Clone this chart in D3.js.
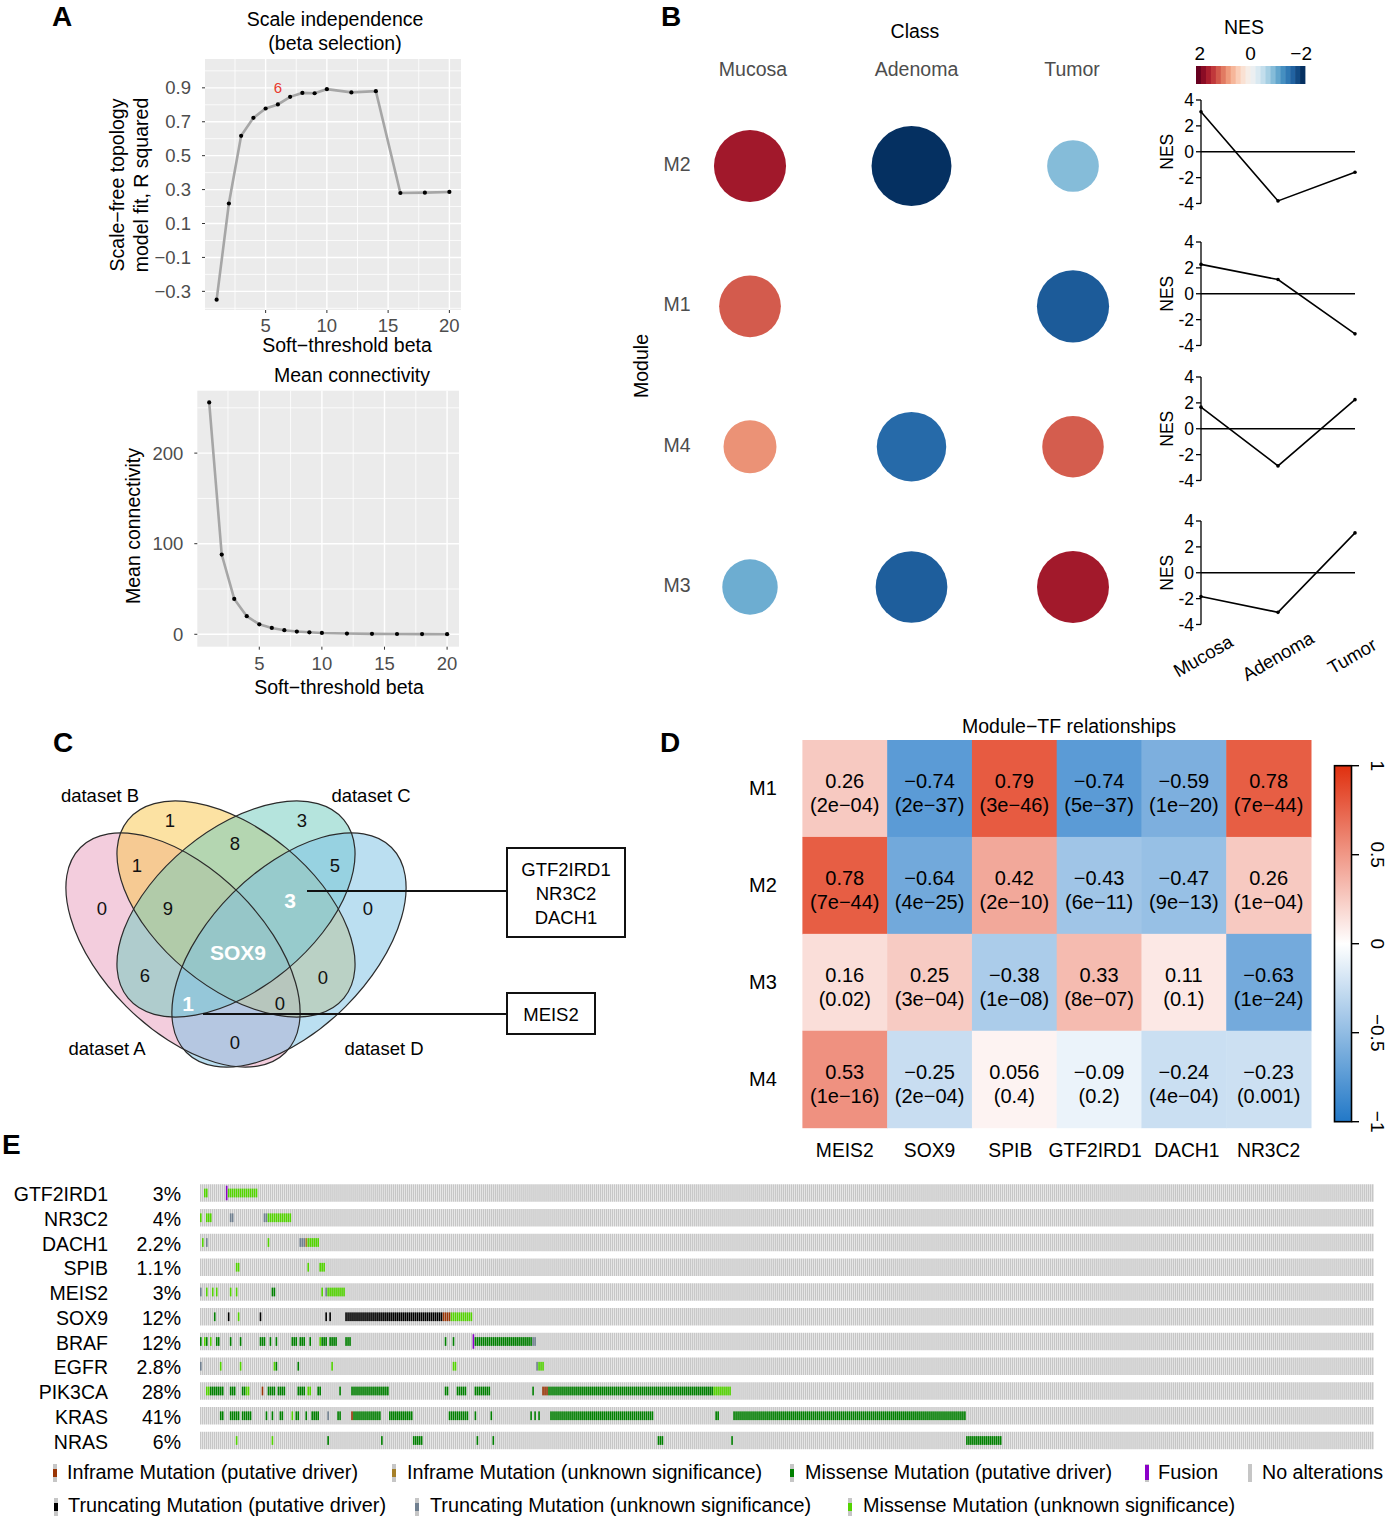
<!DOCTYPE html>
<html><head><meta charset="utf-8">
<script src="https://cdn.jsdelivr.net/npm/d3@7/dist/d3.min.js"></script>
<style>body{margin:0;background:#fff} text{font-family:"Liberation Sans",Arial,Helvetica,sans-serif}</style>
</head><body><svg id="c" width="1388" height="1521" xmlns="http://www.w3.org/2000/svg"></svg>
<script>
// ---------------- DATA ----------------
const betaPowers = [1,2,3,4,5,6,7,8,9,10,12,14,16,18,20];
const scaleFitR2 = [-0.349,0.218,0.617,0.723,0.778,0.802,0.847,0.870,0.868,0.892,0.873,0.880,0.280,0.282,0.286];
const meanConnectivity = [256,88,39,20,11,7,4.5,3,2.2,1.5,0.8,0.5,0.3,0.2,0.1];
const selectedBeta = 6;
const r2TickValues = [-0.3,-0.1,0.1,0.3,0.5,0.7,0.9];
const kTickValues = [0,100,200];
const betaTickValues = [5,10,15,20];

const classes = ["Mucosa","Adenoma","Tumor"];
const modulesB = ["M2","M1","M4","M3"];
const nesM2 = [3.09,-3.80,-1.59];
const nesM1 = [2.27,1.10,-3.10];
const nesM4 = [1.67,-2.87,2.25];
const nesM3 = [-1.83,-3.06,3.08];
const nesShownM2 = [true,true,true];
const nesShownM1 = [true,false,true];
const nesShownM4 = [true,true,true];
const nesShownM3 = [true,true,true];
const nesTicks = [4,2,0,-2,-4];
const nesLegendTicks = [2,0,-2];

const vennSetNames = ["dataset A","dataset B","dataset C","dataset D"];
const vennRegions = ["A","B","C","D","AB","AC","AD","BC","BD","CD","ABC","ABD","ACD","BCD","ABCD"];
const vennCounts  = ["0","1","3","0","1","6","0","8","0","5","9","0","1","3","SOX9"];
const vennHighlighted = ["ACD","BCD","ABCD"];
const calloutBCD = ["GTF2IRD1","NR3C2","DACH1"];
const calloutACD = ["MEIS2"];

const tfNames = ["MEIS2","SOX9","SPIB","GTF2IRD1","DACH1","NR3C2"];
const modulesD = ["M1","M2","M3","M4"];
const corM1 = [0.26,-0.74,0.79,-0.74,-0.59,0.78];
const corM2 = [0.78,-0.64,0.42,-0.43,-0.47,0.26];
const corM3 = [0.16,0.25,-0.38,0.33,0.11,-0.63];
const corM4 = [0.53,-0.25,0.056,-0.09,-0.24,-0.23];
const pM1 = ["2e-04","2e-37","3e-46","5e-37","1e-20","7e-44"];
const pM2 = ["7e-44","4e-25","2e-10","6e-11","9e-13","1e-04"];
const pM3 = ["0.02","3e-04","1e-08","8e-07","0.1","1e-24"];
const pM4 = ["1e-16","2e-04","0.4","0.2","4e-04","0.001"];
const corBarTicks = [1,0.5,0,-0.5,-1];

const oncoGenes = ["GTF2IRD1","NR3C2","DACH1","SPIB","MEIS2","SOX9","BRAF","EGFR","PIK3CA","KRAS","NRAS"];
const oncoPercents = ["3%","4%","2.2%","1.1%","3%","12%","12%","2.8%","28%","41%","6%"];
const sampleCount = 590;
// [first sample, run length, alteration type]
const altGTF2IRD1 = [[2,2,"mU"],[13,1,"F"],[14,15,"mU"]];
const altNR3C2 = [[0,1,"mU"],[3,3,"mU"],[15,2,"tU"],[32,2,"tU"],[34,12,"mU"]];
const altDACH1 = [[1,1,"mU"],[3,1,"tU"],[34,1,"mU"],[50,3,"tU"],[53,1,"iU"],[54,6,"mU"]];
const altSPIB = [[18,2,"mU"],[54,1,"mU"],[60,3,"mU"]];
const altMEIS2 = [[0,1,"tU"],[3,1,"mU"],[6,1,"mU"],[8,1,"mU"],[15,1,"mU"],[18,1,"mU"],[36,2,"mD"],[61,1,"mU"],[63,1,"tU"],[64,9,"mU"]];
const altSOX9 = [[7,1,"mD"],[14,1,"tD"],[19,1,"mU"],[30,1,"tD"],[63,1,"tD"],[65,1,"tD"],[73,49,"tD"],[122,4,"iD"],[126,11,"mU"]];
const altBRAF = [[0,1,"mD"],[2,1,"mU"],[3,1,"mD"],[5,1,"mU"],[8,2,"mD"],[15,1,"mD"],[20,1,"mD"],[30,3,"mD"],[35,1,"mD"],[38,1,"mD"],[46,3,"mD"],[50,3,"mD"],[55,1,"mD"],[60,1,"mU"],[61,3,"mD"],[65,4,"mD"],[73,3,"mD"],[123,1,"mD"],[127,1,"mD"],[137,1,"F"],[138,29,"mD"],[167,2,"tU"]];
const altEGFR = [[0,1,"tU"],[10,1,"mU"],[20,1,"mU"],[37,1,"mU"],[38,1,"mD"],[49,1,"mD"],[66,1,"mU"],[127,2,"mU"],[169,1,"tU"],[170,3,"mU"]];
const altPIK3CA = [[3,2,"mU"],[5,7,"mD"],[15,3,"mD"],[21,2,"mD"],[23,2,"mU"],[31,1,"iD"],[34,4,"mD"],[39,4,"mD"],[49,4,"mD"],[54,2,"mU"],[59,2,"mD"],[70,1,"mD"],[76,19,"mD"],[123,2,"mD"],[129,5,"mD"],[138,8,"mD"],[167,1,"mD"],[172,3,"iD"],[175,83,"mD"],[258,9,"mU"]];
const altKRAS = [[10,2,"mD"],[15,5,"mD"],[21,5,"mD"],[33,1,"mD"],[36,1,"mD"],[40,2,"mD"],[46,1,"mU"],[48,2,"mD"],[53,1,"mD"],[56,4,"mD"],[64,1,"tU"],[69,2,"mD"],[76,1,"iD"],[77,14,"mD"],[95,12,"mD"],[125,10,"mD"],[138,1,"mD"],[146,1,"mD"],[166,1,"mD"],[168,1,"mD"],[170,1,"mD"],[176,52,"mD"],[259,2,"mD"],[268,117,"mD"]];
const altNRAS = [[18,1,"mU"],[36,1,"mU"],[64,1,"mD"],[91,1,"mD"],[107,5,"mD"],[139,1,"mD"],[147,1,"mD"],[230,3,"mD"],[267,1,"mD"],[385,18,"mD"]];
const legendRow1 = [["iD","Inframe Mutation (putative driver)"],["iU","Inframe Mutation (unknown significance)"],["mD","Missense Mutation (putative driver)"],["F","Fusion"],["none","No alterations"]];
const legendRow2 = [["tD","Truncating Mutation (putative driver)"],["tU","Truncating Mutation (unknown significance)"],["mU","Missense Mutation (unknown significance)"]];

// ---------------- HELPERS ----------------
const svg = d3.select("#c");
const minus = s => String(s).replace(/-/g,"\u2212");
function txt(g,x,y,s,o={}){
  const t=g.append("text").attr("x",x).attr("y",y).text(s)
    .attr("font-size",o.size||18).attr("fill",o.fill||"#000")
    .attr("text-anchor",o.anchor||"start").attr("dominant-baseline",o.base||"central");
  if(o.weight) t.attr("font-weight",o.weight);
  if(o.rotate!=null) t.attr("transform",`rotate(${o.rotate},${x},${y})`);
  if(o.len) t.attr("textLength",o.len).attr("lengthAdjust","spacingAndGlyphs");
  return t;
}
// panel letters
[["A",52,16],["B",661,16],["C",53,742],["D",660,742],["E",2,1144]].forEach(d=>txt(svg,d[1],d[2],d[0],{size:28,weight:"bold"}));

// ---------------- PANEL A ----------------
function ggPanel(c){
  const g=svg.append("g");
  const x=d3.scaleLinear().domain([0.05,20.95]).range([c.left,c.right]);
  const y=d3.scaleLinear().domain(c.yDomain).range([c.bottom,c.top]);
  g.append("rect").attr("x",c.left).attr("y",c.top).attr("width",c.right-c.left).attr("height",c.bottom-c.top).attr("fill","#EBEBEB");
  c.yGrid.forEach((v,i)=>g.append("line").attr("x1",c.left).attr("x2",c.right).attr("y1",y(v)).attr("y2",y(v))
     .attr("stroke","#fff").attr("stroke-width",c.yMajor.some(m=>Math.abs(m-v)<1e-9)?1.4:0.8));
  [2.5,5,7.5,10,12.5,15,17.5,20].forEach(v=>g.append("line").attr("y1",c.top).attr("y2",c.bottom).attr("x1",x(v)).attr("x2",x(v))
     .attr("stroke","#fff").attr("stroke-width",v%5===0?1.4:0.8));
  c.yMajor.forEach((v,i)=>{
    g.append("line").attr("x1",c.left-3).attr("x2",c.left).attr("y1",y(v)).attr("y2",y(v)).attr("stroke","#333");
    txt(g,c.left-14,y(v),c.yLabels[i],{size:18.5,fill:"#4D4D4D",anchor:"end"});
  });
  betaTickValues.forEach(v=>{
    g.append("line").attr("x1",x(v)).attr("x2",x(v)).attr("y1",c.bottom).attr("y2",c.bottom+3).attr("stroke","#333");
    txt(g,x(v),c.xTickY,v,{size:18.5,fill:"#4D4D4D",anchor:"middle"});
  });
  const pts=d3.zip(betaPowers,c.values);
  g.append("path").datum(pts).attr("d",d3.line().x(d=>x(d[0])).y(d=>y(d[1])))
    .attr("fill","none").attr("stroke","#A6A6A6").attr("stroke-width",2.6);
  g.selectAll("circle.p").data(pts).enter().append("circle").attr("cx",d=>x(d[0])).attr("cy",d=>y(d[1])).attr("r",2.1).attr("fill","#000");
  c.titles.forEach(t=>txt(g,t[0],t[1],t[2],{size:19.5,anchor:"middle"}));
  txt(g,c.xTitle[0],c.xTitle[1],"Soft\u2212threshold beta",{size:19.5,anchor:"middle"});
  c.yTitles.forEach(t=>txt(g,t[0],t[1],t[2],{size:19.5,anchor:"middle",rotate:-90}));
  return {g,x,y};
}
const pA1=ggPanel({left:205,right:461,top:59,bottom:310,yDomain:[-0.41,1.07],
  yGrid:d3.range(-4,11).map(v=>v/10),yMajor:r2TickValues,yLabels:r2TickValues.map(v=>minus(v.toFixed(1))),
  values:scaleFitR2,xTickY:325,titles:[[335,19,"Scale independence"],[335,43,"(beta selection)"]],
  xTitle:[347,345],yTitles:[[117,185,"Scale\u2212free topology"],[141,185,"model fit, R squared"]]});
{
  const i=betaPowers.indexOf(selectedBeta);
  txt(pA1.g,pA1.x(selectedBeta),pA1.y(scaleFitR2[i]+0.1),selectedBeta,{size:15,fill:"#E8392E",anchor:"middle"});
}
ggPanel({left:197.3,right:459,top:390.7,bottom:646.7,yDomain:[-13.7,268.9],
  yGrid:d3.range(0,251,50),yMajor:kTickValues,yLabels:kTickValues.map(String),
  values:meanConnectivity,xTickY:663,titles:[[352,375,"Mean connectivity"]],
  xTitle:[339,687],yTitles:[[133,526,"Mean connectivity"]]});

// ---------------- PANEL B ----------------
{
  const g=svg.append("g");
  const nesRows=[nesM2,nesM1,nesM4,nesM3];
  const shownRows=[nesShownM2,nesShownM1,nesShownM4,nesShownM3];
  const cx=d3.scalePoint().domain(classes).range([750,1073]);
  const cy=d3.scalePoint().domain(modulesB).range([166,587]);
  const col=d3.scaleSequential(d3.interpolateRdBu).domain([3.7,-3.7]).clamp(true);
  const rad=d3.scaleSqrt().domain([0,4]).range([0,41]);
  txt(g,915,31,"Class",{size:19.5,anchor:"middle"});
  classes.forEach((c,i)=>txt(g,cx(c)+[3,5,-1][i],69,c,{size:19.5,fill:"#4D4D4D",anchor:"middle"}));
  modulesB.forEach(m=>txt(g,677,cy(m)-2,m,{size:19.5,fill:"#4D4D4D",anchor:"middle"}));
  txt(g,641,366,"Module",{size:19.5,anchor:"middle",rotate:-90});
  const dots=[];
  modulesB.forEach((m,r)=>classes.forEach((c,k)=>{ if(shownRows[r][k]) dots.push({m,c,v:nesRows[r][k]}); }));
  g.selectAll("circle.dot").data(dots).enter().append("circle")
    .attr("cx",d=>cx(d.c)).attr("cy",d=>cy(d.m)).attr("r",d=>rad(Math.abs(d.v))).attr("fill",d=>col(d.v));
  // legend
  txt(g,1244,27,"NES",{size:19.5,anchor:"middle"});
  const lx=d3.scaleLinear().domain([2.15,-2.15]).range([1196,1305]);
  const nStripes=22, sw=(1305-1196)/nStripes;
  d3.range(nStripes).forEach(i=>g.append("rect").attr("x",1196+i*sw).attr("y",66).attr("width",sw+0.4).attr("height",18)
    .attr("fill",d3.interpolateRdBu(i/(nStripes-1))));
  nesLegendTicks.forEach(v=>txt(g,lx(v),53,minus(v),{size:19,anchor:"middle"}));
  // small line plots
  const tops=[100,242,377,521];
  const lxp=d3.scalePoint().domain(classes).range([1201,1355]);
  nesRows.forEach((vals,r)=>{
    const y=d3.scaleLinear().domain([-4,4]).range([tops[r]+103.5,tops[r]]);
    g.append("line").attr("x1",1201).attr("x2",1201).attr("y1",y(4)).attr("y2",y(-4)).attr("stroke","#000").attr("stroke-width",1.3);
    nesTicks.forEach(t=>{
      g.append("line").attr("x1",1196).attr("x2",1201).attr("y1",y(t)).attr("y2",y(t)).attr("stroke","#000").attr("stroke-width",1.3);
      txt(g,1194,y(t),t,{size:17.5,anchor:"end"});
    });
    g.append("line").attr("x1",1201).attr("x2",1355).attr("y1",y(0)).attr("y2",y(0)).attr("stroke","#000").attr("stroke-width",1.5);
    const pts=classes.map((c,k)=>[lxp(c),y(vals[k])]);
    g.append("path").attr("d",d3.line()(pts)).attr("fill","none").attr("stroke","#000").attr("stroke-width",1.6);
    pts.forEach(p=>g.append("circle").attr("cx",p[0]).attr("cy",p[1]).attr("r",1.8).attr("fill","#000"));
    txt(g,1167,y(0),"NES",{size:17.5,anchor:"middle",rotate:-90});
  });
  classes.forEach((c,k)=>txt(g,lxp(c)+[2,0,-3][k],656,c,{size:18.5,anchor:"middle",rotate:-30}));
}

// ---------------- PANEL C ----------------
{
  const g=svg.append("g");
  const ellipses=[
    {cx:183,cy:950,a:145,b:80,rot:45,fill:"#E8A0BE"},
    {cx:236,cy:909,a:140,b:79,rot:39.6,fill:"#F9C84E"},
    {cx:236,cy:909,a:140,b:79,rot:-39.6,fill:"#71CBBD"},
    {cx:289,cy:950,a:145,b:80,rot:-45,fill:"#7DC1E5"}];
  const ell=(e)=>g.append("ellipse").attr("cx",e.cx).attr("cy",e.cy).attr("rx",e.a).attr("ry",e.b)
      .attr("transform",`rotate(${e.rot},${e.cx},${e.cy})`);
  ellipses.forEach(e=>ell(e).attr("fill",e.fill).attr("fill-opacity",0.52));
  ellipses.forEach(e=>ell(e).attr("fill","none").attr("stroke","#2b2b2b").attr("stroke-width",1.2));
  const regionPos={A:[102,908],B:[170,820],C:[302,820],D:[368,908],AB:[137,865],AC:[145,975],AD:[235,1042],
    BC:[235,843],BD:[323,977],CD:[335,865],ABC:[168,908],ABD:[280,1003],ACD:[188,1003],BCD:[290,900],ABCD:[238,952]};
  vennRegions.forEach((r,i)=>{
    const hl=vennHighlighted.includes(r);
    txt(g,regionPos[r][0],regionPos[r][1],vennCounts[i],{size:hl?21:18.5,anchor:"middle",fill:hl?"#fff":"#111",weight:hl?"bold":null});
  });
  const setLabelPos=[[107,1048],[100,795],[371,795],[384,1048]];
  vennSetNames.forEach((s,i)=>txt(g,setLabelPos[i][0],setLabelPos[i][1],s,{size:18.5,anchor:"middle"}));
  // callouts
  const bcd=regionPos.BCD, acd=regionPos.ACD;
  g.append("line").attr("x1",bcd[0]+17).attr("x2",507).attr("y1",891).attr("y2",891).attr("stroke","#111").attr("stroke-width",2);
  g.append("line").attr("x1",acd[0]+15).attr("x2",507).attr("y1",1014).attr("y2",1014).attr("stroke","#111").attr("stroke-width",2);
  g.append("rect").attr("x",507).attr("y",848).attr("width",118).attr("height",89).attr("fill","#fff").attr("stroke","#111").attr("stroke-width",2);
  g.append("rect").attr("x",507).attr("y",993).attr("width",88).attr("height",41).attr("fill","#fff").attr("stroke","#111").attr("stroke-width",2);
  calloutBCD.forEach((s,i)=>txt(g,566,869+i*24,s,{size:18.5,anchor:"middle"}));
  calloutACD.forEach(s=>txt(g,551,1014,s,{size:18.5,anchor:"middle"}));
}

// ---------------- PANEL D ----------------
{
  const g=svg.append("g");
  const corRows=[corM1,corM2,corM3,corM4], pRows=[pM1,pM2,pM3,pM4];
  const x=d3.scaleBand().domain(tfNames).range([802.4,1311]);
  const y=d3.scaleBand().domain(modulesD).range([740,1127.7]);
  const heat=d3.scaleLinear().domain([-1,0,1]).range(["#2278C7","#FFFFFF","#E0300F"]);
  txt(g,1069,726,"Module\u2212TF relationships",{size:19.5,anchor:"middle"});
  modulesD.forEach((m,r)=>tfNames.forEach((t,k)=>{
    const v=corRows[r][k];
    g.append("rect").attr("x",x(t)).attr("y",y(m)).attr("width",x.bandwidth()+0.5).attr("height",y.bandwidth()+0.5).attr("fill",heat(v));
    const cxm=x(t)+x.bandwidth()/2, cym=y(m)+y.bandwidth()/2;
    txt(g,cxm,cym-7,minus(v),{size:20,anchor:"middle"});
    txt(g,cxm,cym+17,"("+minus(pRows[r][k])+")",{size:20,anchor:"middle"});
  }));
  modulesD.forEach(m=>txt(g,763,y(m)+y.bandwidth()/2,m,{size:20,anchor:"middle"}));
  tfNames.forEach((t,k)=>txt(g,x(t)+x.bandwidth()/2+[0,0,-4,-4,3,0][k],1150,t,{size:19.3,anchor:"middle"}));
  // colour bar
  const cbY=d3.scaleLinear().domain([-1,1]).range([1121.7,765.7]);
  const grad=svg.append("defs").append("linearGradient").attr("id","cb").attr("x1",0).attr("x2",0).attr("y1",1).attr("y2",0);
  d3.range(0,21).forEach(i=>{const v=-1+i*0.1; grad.append("stop").attr("offset",i/20).attr("stop-color",heat(v));});
  g.append("rect").attr("x",1334.5).attr("y",cbY(1)).attr("width",17).attr("height",cbY(-1)-cbY(1)).attr("fill","url(#cb)").attr("stroke","#000").attr("stroke-width",1.6);
  corBarTicks.forEach(v=>{
    g.append("line").attr("x1",1351.5).attr("x2",1359).attr("y1",cbY(v)).attr("y2",cbY(v)).attr("stroke","#000").attr("stroke-width",1.4);
    txt(g,1377,cbY(v),minus(v),{size:19,anchor:"middle",rotate:90});
  });
}

// ---------------- PANEL E ----------------
{
  const g=svg.append("g");
  const altRows=[altGTF2IRD1,altNR3C2,altDACH1,altSPIB,altMEIS2,altSOX9,altBRAF,altEGFR,altPIK3CA,altKRAS,altNRAS];
  const altColor={mD:"#008000",mU:"#53D400",tD:"#000000",tU:"#708090",iD:"#993404",iU:"#A68028",F:"#8B00C9",none:"#C6C6C6"};
  const xs=d3.scaleLinear().domain([0,sampleCount]).range([200,1374]);
  const w=xs(1)-xs(0);
  const yr=d3.scalePoint().domain(oncoGenes).range([1193,1440.5]);
  const h=17.5;
  oncoGenes.forEach((gene,r)=>{
    const yc=yr(gene);
    txt(g,108,yc+1,gene,{size:19.5,anchor:"end"});
    txt(g,181,yc+1,oncoPercents[r],{size:19.5,anchor:"end"});
    g.selectAll(null).data(d3.range(sampleCount)).enter().append("rect")
      .attr("x",i=>xs(i)).attr("y",yc-h/2).attr("width",w*0.74).attr("height",h).attr("fill",altColor.none);
    const cells=[];
    altRows[r].forEach(([s,n,t])=>d3.range(n).forEach(j=>cells.push([s+j,t])));
    g.selectAll(null).data(cells).enter().append("rect")
      .attr("x",d=>xs(d[0])).attr("width",w*0.8)
      .attr("y",d=>d[1]==="F"?yc-h/2+1.5:yc-h/4).attr("height",d=>d[1]==="F"?h-3:h/2)
      .attr("fill",d=>altColor[d[1]]);
  });
  // legend
  const swatch=(x,yc,t)=>{
    g.append("rect").attr("x",x).attr("y",yc-9).attr("width",4).attr("height",18).attr("fill",altColor.none);
    if(t!=="none") g.append("rect").attr("x",x).attr("y",t==="F"?yc-8:yc-4).attr("width",4).attr("height",t==="F"?15:8).attr("fill",altColor[t]);
  };
  const r1=[[53,67,291],[392,407,355],[790,805,307],[1145,1158,60],[1248,1262,121]];
  legendRow1.forEach((d,i)=>{swatch(r1[i][0],1473,d[0]); txt(g,r1[i][1],1472,d[1],{size:20,len:r1[i][2]});});
  const r2=[[54,68,318],[415,430,381],[848,863,372]];
  legendRow2.forEach((d,i)=>{swatch(r2[i][0],1507,d[0]); txt(g,r2[i][1],1505,d[1],{size:20,len:r2[i][2]});});
}
</script></body></html>
